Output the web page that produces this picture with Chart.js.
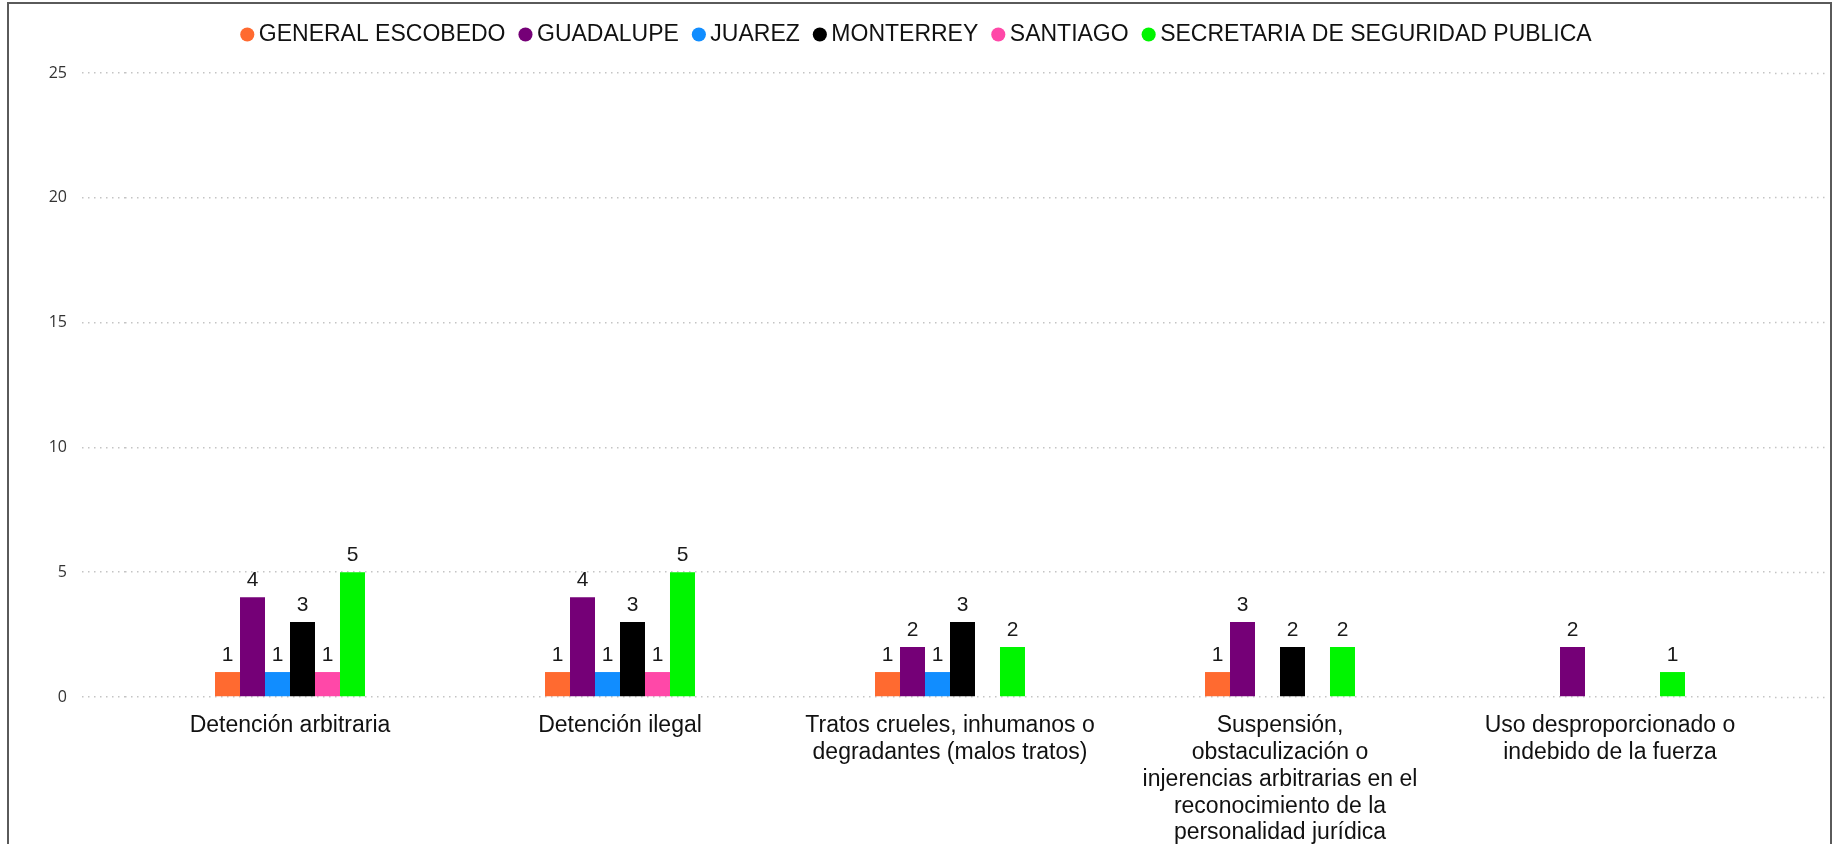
<!DOCTYPE html>
<html>
<head>
<meta charset="utf-8">
<script src="https://cdn.jsdelivr.net/npm/chart.js@4/dist/chart.umd.min.js"></script>
<style>
  html, body { margin: 0; padding: 0; background: #fff; overflow: hidden; }
  #wrap { position: relative; width: 1839px; height: 844px; }
  #frame {
    position: absolute; left: 7px; top: 2px; width: 1825px; height: 860px;
    border: 2px solid #5a5a5a; box-sizing: border-box; pointer-events: none;
  }
</style>
</head>
<body>
<div id="wrap">
  <canvas id="chart" width="1839" height="844"></canvas>
  <div id="frame"></div>
</div>
<script>
const categories = [
  'Detención arbitraria',
  'Detención ilegal',
  ['Tratos crueles, inhumanos o', 'degradantes (malos tratos)'],
  ['Suspensión,', 'obstaculización o', 'injerencias arbitrarias en el', 'reconocimiento de la', 'personalidad jurídica'],
  ['Uso desproporcionado o', 'indebido de la fuerza']
];
const seriesNames = ['GENERAL ESCOBEDO', 'GUADALUPE', 'JUAREZ', 'MONTERREY', 'SANTIAGO', 'SECRETARIA DE SEGURIDAD PUBLICA'];
const generalEscobedo = [1, 1, 1, 1, null];
const guadalupe = [4, 4, 2, 3, 2];
const juarez = [1, 1, 1, null, null];
const monterrey = [3, 3, 3, 2, null];
const santiago = [1, 1, null, null, null];
const secretaria = [5, 5, 2, 2, 1];
const yTicks = [0, 5, 10, 15, 20, 25];

const seriesValues = [generalEscobedo, guadalupe, juarez, monterrey, santiago, secretaria];
const seriesColors = ['#FF6A30', '#750077', '#118DFF', '#000000', '#FF48A8', '#00F500'];

// values above every bar
const valueLabels = {
  id: 'valueLabels',
  afterDatasetsDraw(chart) {
    const ctx = chart.ctx;
    ctx.save();
    ctx.font = '21px "Liberation Sans", Arial, sans-serif';
    ctx.fillStyle = '#1a1a1a';
    ctx.textAlign = 'center';
    ctx.textBaseline = 'alphabetic';
    chart.data.datasets.forEach((ds, i) => {
      chart.getDatasetMeta(i).data.forEach((bar, j) => {
        const v = ds.data[j];
        if (v == null) return;
        ctx.fillText(String(v), bar.x, bar.y - 11);
      });
    });
    ctx.restore();
  }
};

// a bit more room under the legend
const legendSpacing = {
  id: 'legendSpacing',
  beforeInit(chart) {
    const fit = chart.legend.fit;
    chart.legend.fit = function () {
      fit.bind(chart.legend)();
      this.height += 17;
    };
  }
};

const gridDash = [1.5, 4.5];
const gridColor = '#c4c4c4';

const chart = new Chart(document.getElementById('chart').getContext('2d'), {
  type: 'bar',
  data: {
    labels: categories,
    datasets: seriesNames.map((name, i) => ({
      label: name,
      data: seriesValues[i],
      backgroundColor: seriesColors[i],
      borderWidth: 0,
      categoryPercentage: 0.4545,
      barPercentage: 1.0
    }))
  },
  options: {
    responsive: false,
    animation: false,
    layout: { padding: { top: 3, left: 0, right: 0, bottom: 0 } },
    plugins: {
      tooltip: { enabled: false },
      legend: {
        position: 'top',
        align: 'center',
        labels: {
          usePointStyle: true,
          pointStyle: 'circle',
          boxWidth: 0.01,
          boxHeight: 10,
          padding: 20,
          color: '#111',
          font: { family: '"Liberation Sans", Arial, sans-serif', size: 23 }
        }
      }
    },
    scales: {
      x: {
        afterFit(scale) { scale.height = 147; },
        grid: { display: false },
        border: { display: false },
        ticks: {
          autoSkip: false,
          maxRotation: 0,
          minRotation: 0,
          padding: 7,
          color: '#111',
          font: { family: '"Liberation Sans", Arial, sans-serif', size: 23, lineHeight: 1.17 }
        }
      },
      y: {
        min: 0,
        max: 25,
        afterBuildTicks(scale) { scale.ticks = yTicks.map(v => ({ value: v })); },
        afterFit(scale) { scale.width = 125; },
        border: { display: false, dash: gridDash },
        grid: {
          color: gridColor,
          lineWidth: 1.5,
          drawTicks: true,
          tickLength: 43,
          tickColor: gridColor,
          tickWidth: 1.5,
          tickBorderDash: gridDash
        },
        ticks: {
          padding: 15,
          color: '#333',
          font: { family: '"Open Sans", sans-serif', size: 16 }
        }
      },
      y2: {
        position: 'right',
        min: 0,
        max: 25,
        afterBuildTicks(scale) { scale.ticks = yTicks.map(v => ({ value: v })); },
        afterFit(scale) { scale.width = 64; },
        border: { display: false },
        grid: {
          drawOnChartArea: false,
          drawTicks: true,
          tickLength: 52,
          tickColor: gridColor,
          tickWidth: 1.5,
          tickBorderDash: gridDash
        },
        ticks: { display: false }
      }
    }
  },
  plugins: [valueLabels, legendSpacing]
});
</script>
</body>
</html>
